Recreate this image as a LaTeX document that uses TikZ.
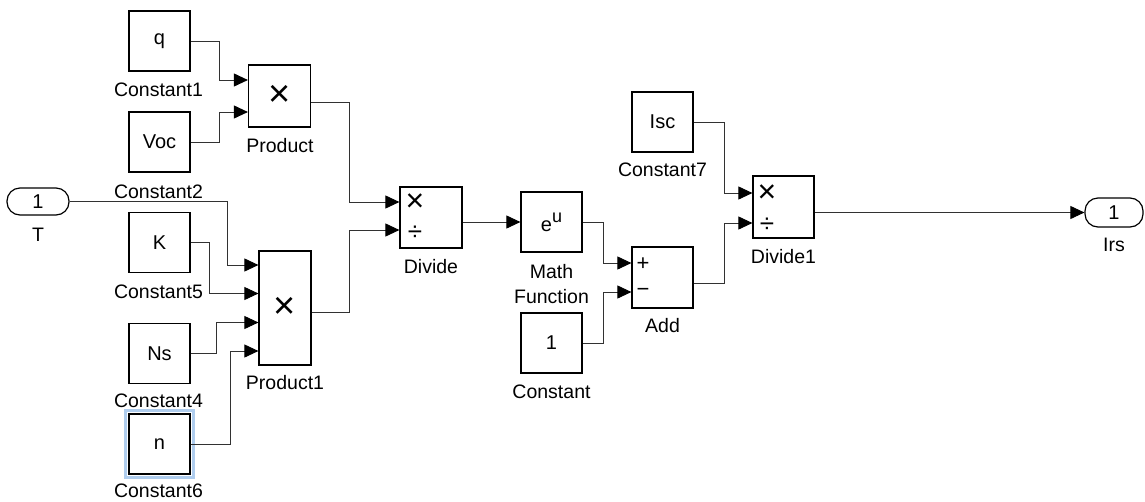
\documentclass[tikz,border=0pt]{standalone}
\usepackage{fontspec}
\setmainfont{Liberation Sans}
\usetikzlibrary{arrows.meta,calc}
\definecolor{sigc}{RGB}{50,50,50}
\definecolor{selc}{RGB}{175,205,238}
\begin{document}
\begin{tikzpicture}[x=1pt,y=-1pt,
  blk/.style={draw=black,line width=1.2pt,fill=white,inner sep=0pt,minimum width=61pt,minimum height=60pt,font=\fontsize{20}{22}\selectfont},
  port/.style={draw=black,line width=1.2pt,fill=white,rounded corners=13pt,inner sep=0pt,minimum width=62pt,minimum height=27pt,font=\fontsize{20}{22}\selectfont},
  lbl/.style={inner sep=0pt,font=\fontsize{19.5}{25}\selectfont,align=center},
  bigtimes/.style={font=\fontsize{38}{38}\selectfont},
  sym/.style={inner sep=0pt,font=\fontsize{22}{22}\selectfont},
  divsym/.style={inner sep=0pt,font=\fontsize{26}{26}\selectfont},
  smalltimes/.style={inner sep=0pt,font=\fontsize{32}{32}\selectfont},
  sig/.style={draw=sigc,line width=0.9pt,-{Triangle[length=14pt,width=13pt,color=black]}},
]
\useasboundingbox (0,0) rectangle (1145,501);

% blocks
\node[blk] (q) at (159.5,41) {q};
\node[blk] (voc) at (159.5,142) {Voc};
\node[blk,minimum width=62pt,minimum height=62pt,bigtimes] (prod) at (279.5,96) {×};
\node[blk] (k) at (159.5,242.5) {K};
\node[blk] (ns) at (159.5,353.5) {Ns};
\node[blk] (n) at (159.5,444) {n};
\draw[selc,line width=2.5pt] ([shift={(-3pt,-3pt)}]n.south west) rectangle ([shift={(3pt,3pt)}]n.north east);
\node[blk] (n2) at (159.5,444) {n};
\node[blk,minimum width=52pt,minimum height=114pt,bigtimes] (prod1) at (285,308) {×};
\node[blk,minimum width=62pt,minimum height=61pt] (div) at (431,217.5) {};
\node[smalltimes] (divx) at (415,203) {×};
\node[divsym] (divd) at (415,233) {÷};
\node[blk] (math) at (551.5,222) {e\raisebox{9pt}{\fontsize{18}{18}\selectfont u}};
\node[blk] (c0) at (551.5,343) {1};
\node[blk,minimum height=61pt] (add) at (662.5,277.5) {};
\node[sym] (addp) at (643,264) {+};
\node[sym] (addm) at (643,292) {−};
\node[blk] (isc) at (662.5,122) {Isc};
\node[blk,minimum height=62pt] (div1) at (783.5,207) {};
\node[smalltimes] (div1x) at (767,194) {×};
\node[divsym] (div1d) at (767,225) {÷};
\node[port] (t) at (38,201.5) {1};
\node[port,minimum width=58pt,minimum height=29pt] (irs) at (1114,212.5) {1};

% labels
\node[lbl] (lq) at (158.5,90) {Constant1};
\node[lbl] (lvoc) at (158.5,192) {Constant2};
\node[lbl] (lk) at (158.5,292) {Constant5};
\node[lbl] (lns) at (158.5,401) {Constant4};
\node[lbl] (ln) at (158.5,491) {Constant6};
\node[lbl] (lprod) at (280,146) {Product};
\node[lbl] (lprod1) at (285,383) {Product1};
\node[lbl] (ldiv) at (431,267) {Divide};
\node[lbl] (lmath) at (551.5,284.5) {Math\\Function};
\node[lbl] (lc0) at (551.5,392) {Constant};
\node[lbl] (ladd) at (662.5,326) {Add};
\node[lbl] (lisc) at (662.5,170) {Constant7};
\node[lbl] (ldiv1) at (783.5,257) {Divide1};
\node[lbl] (lt) at (38,235) {T};
\node[lbl] (lirs) at (1114,245) {Irs};

% signals
\draw[sig] (q.east) -- ++(29,0) |- ([yshift=16pt]prod.west);
\draw[sig] (voc.east) -- ++(29,0) |- ([yshift=-16pt]prod.west);
\draw[sig] (t.east) -- ++(158,0) |- ([yshift=43pt]prod1.west);
\draw[sig] (k.east) -- ++(19,0) |- ([yshift=14.5pt]prod1.west);
\draw[sig] (ns.east) -- ++(26,0) |- ([yshift=-14.5pt]prod1.west);
\draw[sig] (n2.east) -- ++(40,0) |- ([yshift=-43pt]prod1.west);
\draw[sig] ([yshift=-6pt]prod.east) -- ++(38,0) |- ([yshift=15.5pt]div.west);
\draw[sig] ([yshift=-4pt]prod1.east) -- ++(38,0) |- ([yshift=-12.5pt]div.west);
\draw[sig] (div.east |- math.west) -- (math.west);
\draw[sig] (math.east) -- ++(21,0) |- ([yshift=14.5pt]add.west);
\draw[sig] (c0.east) -- ++(21,0) |- ([yshift=-14.5pt]add.west);
\draw[sig] (isc.east) -- ++(30.5,0) |- ([yshift=14pt]div1.west);
\draw[sig] ([yshift=-5.5pt]add.east) -- ++(30.5,0) |- ([yshift=-16pt]div1.west);
\draw[sig] (div1.east |- irs.west) -- (irs.west);
\end{tikzpicture}
\end{document}
